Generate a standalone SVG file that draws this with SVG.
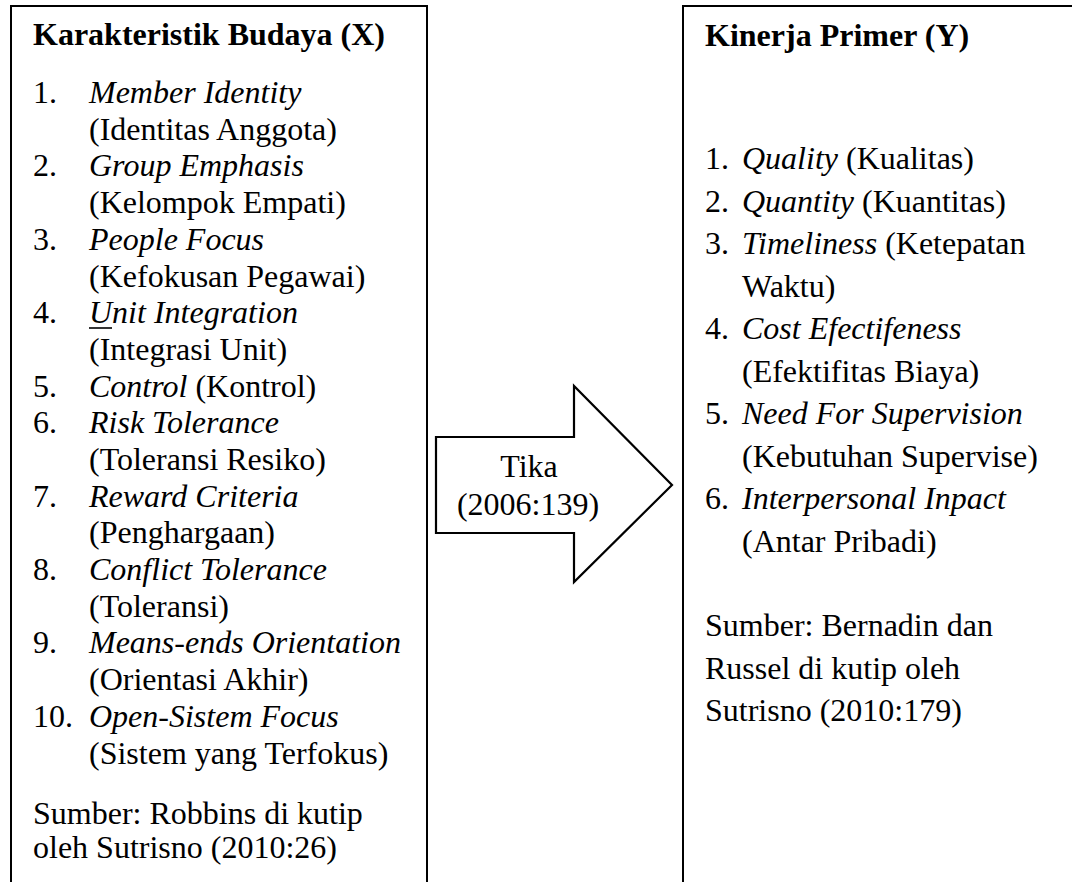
<svg xmlns="http://www.w3.org/2000/svg" width="1072" height="882" viewBox="0 0 1072 882">
<style>
text { font-family: "Liberation Serif", "Times New Roman", serif; font-size: 32px; fill: #000; }
.h { font-weight: bold; }
.i { font-style: italic; }
.box { fill: #fff; stroke: #000; stroke-width: 2; }
.arrow { fill: #fff; stroke: #000; stroke-width: 2.2; stroke-linejoin: miter; }
.c { text-anchor: middle; }
</style>
<rect width="1072" height="882" fill="#fff"/>
<g id="node-x">
<rect class="box" x="11" y="6" width="416" height="900"/>
<text class="h" x="33" y="45">Karakteristik Budaya (X)</text>
<text x="33" y="103">1.</text><text class="i" x="89" y="103">Member Identity</text>
<text x="89" y="140">(Identitas Anggota)</text>
<text x="33" y="176">2.</text><text class="i" x="89" y="176">Group Emphasis</text>
<text x="89" y="213">(Kelompok Empati)</text>
<text x="33" y="250">3.</text><text class="i" x="89" y="250">People Focus</text>
<text x="89" y="287">(Kefokusan Pegawai)</text>
<text x="33" y="323">4.</text><text class="i" x="89" y="323">Unit Integration</text>
<line x1="89" y1="328" x2="112" y2="328" stroke="#000" stroke-width="1.6"/>
<text x="89" y="360">(Integrasi Unit)</text>
<text x="33" y="397">5.</text><text x="89" y="397"><tspan class="i">Control</tspan> (Kontrol)</text>
<text x="33" y="433">6.</text><text class="i" x="89" y="433">Risk Tolerance</text>
<text x="89" y="470">(Toleransi Resiko)</text>
<text x="33" y="507">7.</text><text class="i" x="89" y="507">Reward Criteria</text>
<text x="89" y="543">(Penghargaan)</text>
<text x="33" y="580">8.</text><text class="i" x="89" y="580">Conflict Tolerance</text>
<text x="89" y="617">(Toleransi)</text>
<text x="33" y="653">9.</text><text class="i" x="89" y="653">Means-ends Orientation</text>
<text x="89" y="690">(Orientasi Akhir)</text>
<text x="33" y="727">10.</text><text class="i" x="89" y="727">Open-Sistem Focus</text>
<text x="89" y="764">(Sistem yang Terfokus)</text>
<text x="33" y="824">Sumber: Robbins di kutip</text>
<text x="33" y="858">oleh Sutrisno (2010:26)</text>
</g>
<g id="node-y">
<rect class="box" x="683" y="6" width="420" height="900"/>
<text class="h" x="705" y="46">Kinerja Primer (Y)</text>
<text x="705" y="169">1.</text><text x="742" y="169"><tspan class="i">Quality</tspan> (Kualitas)</text>
<text x="705" y="211.5">2.</text><text x="742" y="211.5"><tspan class="i">Quantity</tspan> (Kuantitas)</text>
<text x="705" y="254">3.</text><text x="742" y="254"><tspan class="i">Timeliness</tspan> (Ketepatan</text>
<text x="742" y="296.5">Waktu)</text>
<text x="705" y="339">4.</text><text class="i" x="742" y="339">Cost Efectifeness</text>
<text x="742" y="381.5">(Efektifitas Biaya)</text>
<text x="705" y="424">5.</text><text class="i" x="742" y="424">Need For Supervision</text>
<text x="742" y="466.5">(Kebutuhan Supervise)</text>
<text x="705" y="509">6.</text><text class="i" x="742" y="509">Interpersonal Inpact</text>
<text x="742" y="551.5">(Antar Pribadi)</text>
<text x="705" y="636">Sumber: Bernadin dan</text>
<text x="705" y="678.5">Russel di kutip oleh</text>
<text x="705" y="721">Sutrisno (2010:179)</text>
</g>
<g id="connectors">
<g id="edge-x-y">
<polygon class="arrow" points="436,437 574,437 574,386 672,485 574,582 574,533 436,533"/>
<text class="c" x="529" y="477">Tika</text>
<text class="c" x="528" y="515">(2006:139)</text>
</g>
</g>
</svg>
